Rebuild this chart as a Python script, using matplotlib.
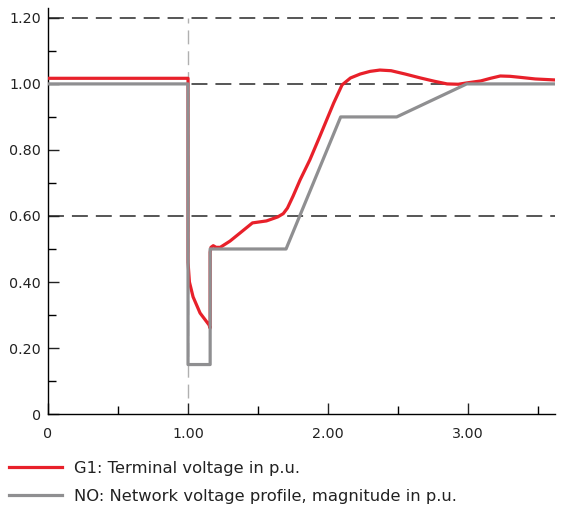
import matplotlib.pyplot as plt
from matplotlib.lines import Line2D

plt.rcParams['font.family'] = ['DejaVu Sans']

# time axis (s) and voltages (p.u.)
g1_time = [0, 1.0, 1.0, 1.01, 1.036, 1.086, 1.15, 1.158, 1.158, 1.164, 1.18, 1.2,
           1.23, 1.30, 1.37, 1.46, 1.56, 1.64, 1.68, 1.71, 1.75, 1.80, 1.87, 1.94,
           2.04, 2.10, 2.16, 2.23, 2.30, 2.37, 2.45, 2.55, 2.66, 2.76, 2.85, 2.93,
           2.99, 3.09, 3.16, 3.23, 3.30, 3.37, 3.48, 3.62]
g1_volt = [1.017, 1.017, 0.46, 0.40, 0.355, 0.306, 0.27, 0.26, 0.49, 0.505, 0.51, 0.505,
           0.505, 0.524, 0.548, 0.579, 0.585, 0.597, 0.607, 0.624, 0.66, 0.709, 0.77, 0.84,
           0.942, 0.997, 1.018, 1.03, 1.038, 1.042, 1.04, 1.03, 1.018, 1.008, 1.0, 0.999,
           1.003, 1.009, 1.017, 1.024, 1.023, 1.02, 1.015, 1.012]

no_time = [0, 1.0, 1.0, 1.158, 1.158, 1.70, 2.09, 2.49, 2.99, 3.62]
no_volt = [1.0, 1.0, 0.15, 0.15, 0.50, 0.50, 0.90, 0.90, 1.0, 1.0]

grid_levels = [0.6, 1.0, 1.2]
fault_time = 1.0

labels = ["G1: Terminal voltage in p.u.",
          "NO: Network voltage profile, magnitude in p.u."]

red = '#e8202a'
grey = '#8f8f91'

fig = plt.figure(figsize=(5.62, 5.15), dpi=100)
ax = fig.add_axes([0.0854, 0.196, 0.902, 0.7885])

# dashed reference levels
for lvl in grid_levels:
    ax.axhline(lvl, color='#555555', lw=1.4, dashes=(8.2, 4.1), zorder=1)
ax.plot([fault_time, fault_time], [0.05, 1.2], color='#b0b0b0', lw=1.0,
        dashes=(10, 5), zorder=1)

ax.plot(g1_time, g1_volt, color=red, lw=2.3, zorder=3)
ax.plot(no_time, no_volt, color=grey, lw=2.3, zorder=4)

ax.set_xlim(0, 3.62)
ax.set_ylim(0, 1.23)
ax.set_xticks([0, 1, 2, 3])
ax.set_xticklabels(['0', '1.00', '2.00', '3.00'])
ax.set_xticks([0.5, 1.5, 2.5, 3.5], minor=True)
ax.set_yticks([0, 0.2, 0.4, 0.6, 0.8, 1.0, 1.2])
ax.set_yticklabels(['0', '0.20', '0.40', '0.60', '0.80', '1.00', '1.20'])
ax.set_yticks([0.1, 0.3, 0.5, 0.7, 0.9, 1.1], minor=True)

ax.spines['top'].set_visible(False)
ax.spines['right'].set_visible(False)
ax.spines['left'].set_linewidth(1.0)
ax.spines['bottom'].set_linewidth(1.0)
ax.tick_params(which='major', direction='in', length=8, width=1.0,
               labelsize=10.3, colors='#222222')
ax.tick_params(which='minor', direction='in', length=5.5, width=1.0)
ax.tick_params(axis='x', pad=9)
ax.tick_params(axis='y', pad=5)

handles = [Line2D([], [], color=red, lw=2.3), Line2D([], [], color=grey, lw=2.3)]
fig.legend(handles, labels, loc='upper left', bbox_to_anchor=(0.005, 0.118),
           frameon=False, fontsize=11.8, handlelength=3.2, handletextpad=0.75,
           labelspacing=0.8, borderaxespad=0, labelcolor='#222222')

fig.savefig('out.png', dpi=100)
